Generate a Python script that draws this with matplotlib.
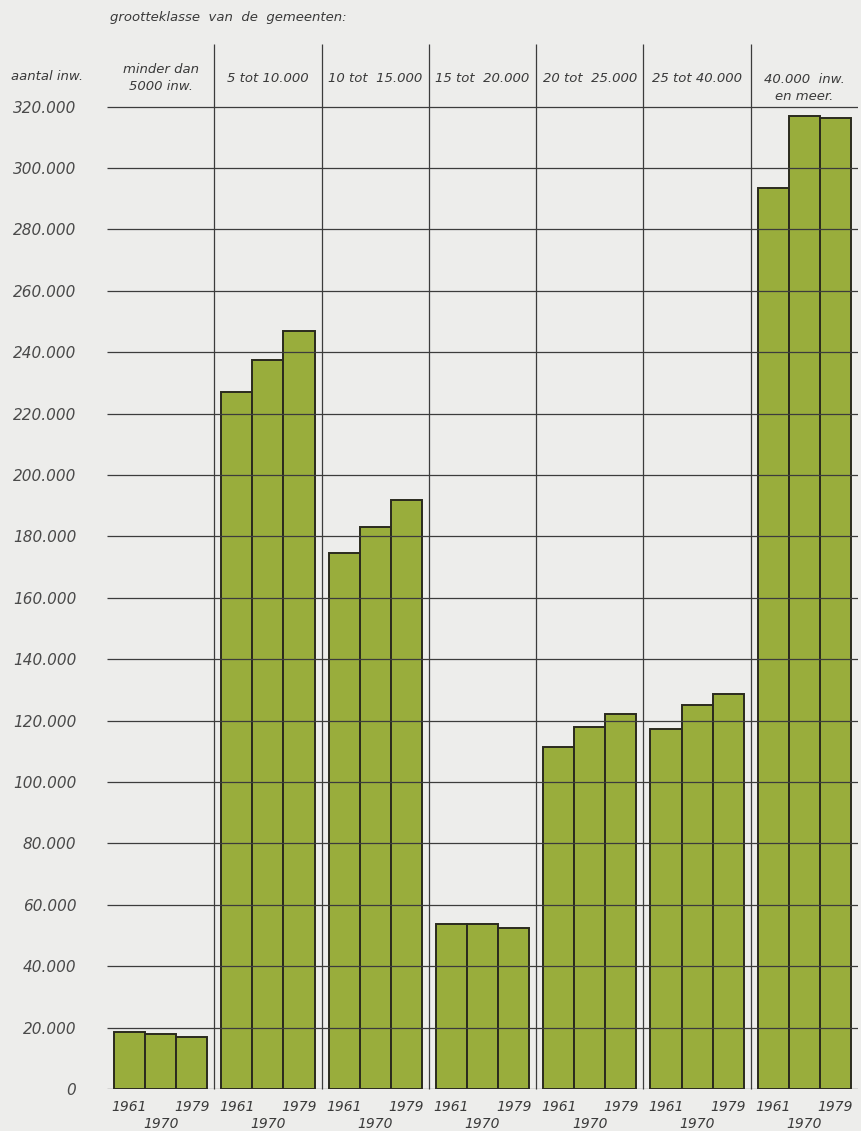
import numpy as np
import matplotlib.pyplot as plt

# aantal inwoners per grootteklasse van de gemeenten
jaren = ['1961', '1970', '1979']
klassen = ['minder dan\n5000 inw.', '5 tot 10.000', '10 tot  15.000', '15 tot  20.000',
           '20 tot  25.000', '25 tot 40.000', '40.000  inw.\nen meer.']
inw_1961 = [18500, 227000, 174500, 53800, 111500, 117200, 293500]
inw_1970 = [18000, 237500, 183000, 53800, 118000, 125000, 316800]
inw_1979 = [17000, 247000, 191700, 52400, 122300, 128800, 316300]
yticks = np.arange(0, 320001, 20000)
ytick_labels = ['0' if v == 0 else f'{v // 1000}.000' for v in yticks]

bg = '#ededeb'
groen = '#99ad3c'
rand = '#2a2a1e'
lijn = '#3c3c3c'
tekst = '#3a3a3a'

W, H = 862, 1131
fig = plt.figure(figsize=(W / 100, H / 100), dpi=100, facecolor=bg)

# axes placed in pixel terms: zero line at y=1089, 20.000 per 61.4 px
ymax = 342000
y0_px = 1089
top_px = y0_px - ymax / 20000 * 61.4
ax = fig.add_axes([107 / W, (H - y0_px) / H, (858 - 107) / W, (y0_px - top_px) / H])
ax.set_facecolor('none')
ax.set_xlim(-0.5, len(klassen) - 0.5)
ax.set_ylim(0, ymax)
for s in ax.spines.values():
    s.set_visible(False)

x = np.arange(len(klassen))
w = 0.29
for i, (vals, jr) in enumerate(zip([inw_1961, inw_1970, inw_1979], jaren)):
    ax.bar(x + (i - 1) * w, vals, width=w, color=groen, edgecolor=rand, linewidth=1.4, zorder=2)

# horizontal grid lines over the bars, vertical separators between the classes
ax.hlines(yticks, -0.5, len(klassen) - 0.5, color=lijn, linewidth=0.9, zorder=3)
ax.vlines(x[:-1] + 0.5, 0, 340500, color=lijn, linewidth=0.9, zorder=3, clip_on=False)

ax.set_xticks([])
ax.set_yticks(yticks)
ax.set_yticklabels(ytick_labels, fontsize=11, style='italic', color='#4a4a4a')
ax.tick_params(axis='y', length=0, pad=22)

# column headers
for xi, k in zip(x, klassen):
    yk = 329300 if xi < 6 else 326000
    ax.text(xi, yk, k, ha='center', va='center', fontsize=9.5, style='italic',
            color=tekst, linespacing=1.45)

# year labels under the bars
for xi in x:
    ax.text(xi - w, -5900, jaren[0], ha='center', va='center', fontsize=10, style='italic', color=tekst)
    ax.text(xi + w, -5900, jaren[2], ha='center', va='center', fontsize=10, style='italic', color=tekst)
    ax.text(xi, -11300, jaren[1], ha='center', va='center', fontsize=10, style='italic', color=tekst)

fig.text(110 / W, 1 - 18 / H, 'grootteklasse  van  de  gemeenten:', ha='left', va='center',
         fontsize=9.5, style='italic', color=tekst)
fig.text(11 / W, 1 - 77 / H, 'aantal inw.', ha='left', va='center',
         fontsize=9.5, style='italic', color=tekst)

fig.savefig('out.png', dpi=100, facecolor=bg)
